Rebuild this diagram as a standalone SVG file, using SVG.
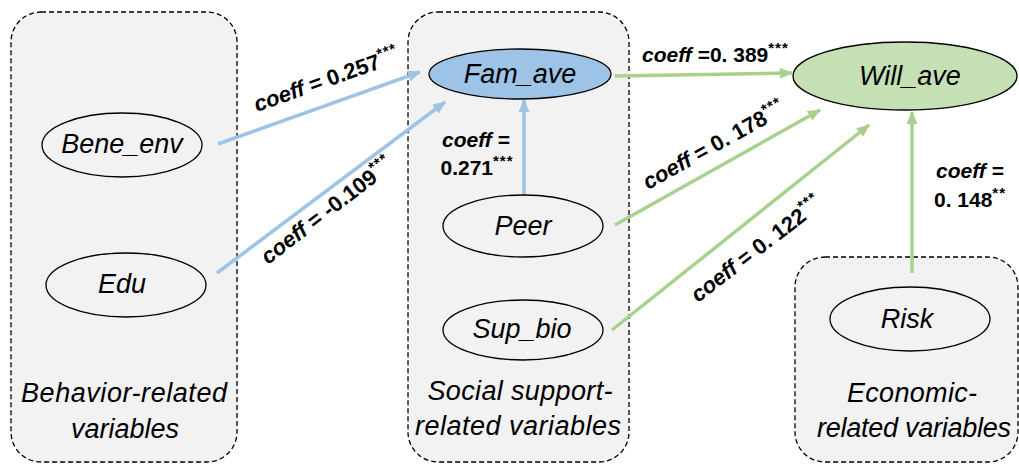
<svg xmlns="http://www.w3.org/2000/svg" width="1019" height="464" viewBox="0 0 1019 464">
  <style>
    .grp { fill: #F2F2F2; stroke: #000; stroke-width: 1.3; stroke-dasharray: 5 3; }
    .node { fill: none; stroke: #000; stroke-width: 1.3; }
    .ntext { font-family: "Liberation Sans", Arial, sans-serif; font-style: italic; font-size: 27px; fill: #000; text-anchor: middle; }
    .gtext { font-family: "Liberation Sans", Arial, sans-serif; font-style: italic; font-size: 27px; fill: #000; text-anchor: middle; }
    .lbl { font-family: "Liberation Sans", Arial, sans-serif; font-weight: bold; font-size: 21px; fill: #000; }
    .rot { font-size: 22px; }
    .it { font-style: italic; }
    .sup { font-size: 15px; letter-spacing: 1px; }
    .blue { stroke: #9DC3E6; stroke-width: 3.5; fill: none; marker-end: url(#ab); }
    .green { stroke: #A9D18E; stroke-width: 3.5; fill: none; marker-end: url(#ag); }
  </style>
  <defs>
    <marker id="ab" markerUnits="userSpaceOnUse" markerWidth="13" markerHeight="11" refX="12" refY="5.5" orient="auto">
      <path d="M0,0 L13,5.5 L0,11 z" fill="#9DC3E6"/>
    </marker>
    <marker id="ag" markerUnits="userSpaceOnUse" markerWidth="13" markerHeight="11" refX="12" refY="5.5" orient="auto">
      <path d="M0,0 L13,5.5 L0,11 z" fill="#A9D18E"/>
    </marker>
  </defs>

  <!-- variable groups -->
  <g id="group-behavior">
    <rect class="grp" x="11" y="12" width="226" height="450" rx="30" ry="30"/>
    <text class="gtext" x="124" y="402" textLength="206">Behavior-related</text>
    <text class="gtext" x="125" y="438">variables</text>
  </g>
  <g id="group-social">
    <rect class="grp" x="408" y="12" width="221" height="450" rx="30" ry="30"/>
    <text class="gtext" x="520" y="400" textLength="185">Social support-</text>
    <text class="gtext" x="518" y="435" textLength="206">related variables</text>
  </g>
  <g id="group-economic">
    <rect class="grp" x="795" y="257" width="223" height="205" rx="30" ry="30"/>
    <text class="gtext" x="912" y="402" textLength="130">Economic-</text>
    <text class="gtext" x="914" y="437" textLength="194">related variables</text>
  </g>

  <!-- connectors -->
  <g id="connectors">
    <line class="blue" x1="218" y1="144" x2="420" y2="72"/>
    <line class="blue" x1="217" y1="273" x2="445" y2="102"/>
    <line class="blue" x1="524" y1="195" x2="524" y2="100"/>
    <line class="green" x1="615" y1="76" x2="792" y2="73"/>
    <line class="green" x1="615" y1="225" x2="820" y2="110"/>
    <line class="green" x1="612" y1="330" x2="869" y2="125"/>
    <line class="green" x1="912" y1="273" x2="912" y2="112"/>

    <text class="lbl rot" transform="translate(257,112) rotate(-19.5)"><tspan class="it">coeff</tspan> = 0.257<tspan class="sup" dy="-9">***</tspan></text>
    <text class="lbl rot" transform="translate(268,265) rotate(-37.5)"><tspan class="it">coeff</tspan> = -0.109<tspan class="sup" dy="-9">***</tspan></text>
    <text class="lbl" x="476" y="147" text-anchor="middle"><tspan class="it">coeff</tspan> =</text>
    <text class="lbl" x="477" y="175" text-anchor="middle">0.271<tspan class="sup" dy="-9">***</tspan></text>
    <text class="lbl" x="642" y="62"><tspan class="it">coeff</tspan> =0. 389<tspan class="sup" dy="-9">***</tspan></text>
    <text class="lbl rot" transform="translate(648,190) rotate(-29)"><tspan class="it">coeff</tspan> = 0. 178<tspan class="sup" dy="-9">***</tspan></text>
    <text class="lbl rot" transform="translate(698,303) rotate(-37.5)"><tspan class="it">coeff</tspan> = 0. 122<tspan class="sup" dy="-9">***</tspan></text>
    <text class="lbl" x="970" y="178" text-anchor="middle"><tspan class="it">coeff</tspan> =</text>
    <text class="lbl" x="970" y="207" text-anchor="middle">0. 148<tspan class="sup" dy="-9">**</tspan></text>
  </g>

  <!-- nodes -->
  <g id="node-bene-env">
    <ellipse class="node" cx="122" cy="145" rx="80" ry="32"/>
    <text class="ntext" x="122" y="153">Bene_env</text>
  </g>
  <g id="node-edu">
    <ellipse class="node" cx="126" cy="285" rx="80" ry="32"/>
    <text class="ntext" x="122" y="293">Edu</text>
  </g>
  <g id="node-fam-ave">
    <ellipse class="node" cx="520" cy="74" rx="91" ry="25" style="fill:#9DC3E6"/>
    <text class="ntext" x="520" y="83">Fam_ave</text>
  </g>
  <g id="node-peer">
    <ellipse class="node" cx="523" cy="226" rx="80" ry="31"/>
    <text class="ntext" x="523" y="235">Peer</text>
  </g>
  <g id="node-sup-bio">
    <ellipse class="node" cx="523" cy="330" rx="80" ry="30"/>
    <text class="ntext" x="522" y="338">Sup_bio</text>
  </g>
  <g id="node-will-ave">
    <ellipse class="node" cx="905" cy="76" rx="112" ry="34" style="fill:#C5E0B4"/>
    <text class="ntext" x="910" y="85">Will_ave</text>
  </g>
  <g id="node-risk">
    <ellipse class="node" cx="910" cy="319" rx="80" ry="32"/>
    <text class="ntext" x="907" y="328">Risk</text>
  </g>
</svg>
